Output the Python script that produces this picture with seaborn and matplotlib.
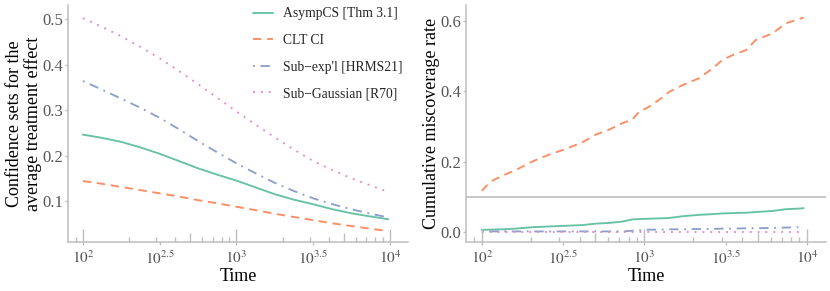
import numpy as np
import pandas as pd
import matplotlib
matplotlib.use("Agg")
import matplotlib.pyplot as plt
import seaborn as sns

# ---------------- data ----------------
methods = ["AsympCS [Thm 3.1]", "CLT CI", "Sub\u2212exp'l [HRMS21]", "Sub\u2212Gaussian [R70]"]

times_left = [100, 133, 178, 237, 316, 422, 562, 750, 1000, 1334, 1778, 2371,
              3162, 4217, 5623, 7499, 9750]
asymp_width = [0.246, 0.239, 0.230, 0.218, 0.204, 0.188, 0.172, 0.158, 0.145,
               0.130, 0.115, 0.103, 0.093, 0.082, 0.073, 0.066, 0.060]
clt_width = [0.144, 0.138, 0.131, 0.124, 0.117, 0.110, 0.102, 0.095, 0.0875,
             0.080, 0.072, 0.065, 0.058, 0.051, 0.045, 0.039, 0.034]
subexp_width = [0.364, 0.345, 0.325, 0.305, 0.283, 0.258, 0.232, 0.207, 0.183,
                0.161, 0.140, 0.122, 0.106, 0.093, 0.082, 0.072, 0.064]
subgauss_width = [0.502, 0.483, 0.462, 0.439, 0.414, 0.386, 0.357, 0.327, 0.297,
                  0.268, 0.240, 0.213, 0.188, 0.168, 0.150, 0.134, 0.120]

times_right = [100, 113, 134, 162, 204, 257, 329, 417, 501, 603, 735, 845, 925,
               1072, 1230, 1413, 1718, 2163, 2630, 3020, 3491, 4217, 4853, 6166,
               7413, 9183, 9550]
clt_miss = [0.117, 0.143, 0.160, 0.176, 0.200, 0.219, 0.236, 0.255, 0.276, 0.290,
            0.309, 0.320, 0.340, 0.356, 0.375, 0.397, 0.417, 0.436, 0.464, 0.488,
            0.502, 0.516, 0.545, 0.564, 0.592, 0.606, 0.608]
asymp_miss = [0.0065, 0.007, 0.008, 0.010, 0.014, 0.016, 0.018, 0.020, 0.024, 0.026,
              0.030, 0.036, 0.037, 0.038, 0.039, 0.040, 0.045, 0.049, 0.051, 0.053,
              0.054, 0.055, 0.057, 0.060, 0.065, 0.067, 0.068]
subexp_miss = [0.002, 0.002, 0.002, 0.002, 0.002, 0.002, 0.002, 0.002, 0.002, 0.002,
               0.002, 0.004, 0.005, 0.007, 0.007, 0.008, 0.008, 0.009, 0.009, 0.010,
               0.010, 0.011, 0.011, 0.012, 0.013, 0.014, 0.014]
subgauss_miss = [0.001] * len(times_right)

target_alpha = 0.1

xtick_pos = [10**2, 10**2.5, 10**3, 10**3.5, 10**4]
xtick_lab = [r"$10^{2}$", r"$10^{2.5}$", r"$10^{3}$", r"$10^{3.5}$", r"$10^{4}$"]
ytick_left = [0.1, 0.2, 0.3, 0.4, 0.5]
ytick_right = [0.0, 0.2, 0.4, 0.6]

# log tick marks (annotation_logticks style)
logtick_long = [100, 1000, 10000]
logtick_mid = [500, 5000]
logtick_short = [90, 200, 300, 400, 600, 700, 800, 900,
                 2000, 3000, 4000, 6000, 7000, 8000, 9000]

# ---------------- frames ----------------
df_left = pd.DataFrame({
    "time": times_left * 4,
    "value": asymp_width + clt_width + subexp_width + subgauss_width,
    "method": sum([[m] * len(times_left) for m in methods], []),
})
df_right = pd.DataFrame({
    "time": times_right * 4,
    "value": asymp_miss + clt_miss + subexp_miss + subgauss_miss,
    "method": sum([[m] * len(times_right) for m in methods], []),
})

# ---------------- style ----------------
sns.set_theme(style="white")
plt.rcParams["font.family"] = ["Liberation Serif", "DejaVu Serif"]
plt.rcParams["mathtext.fontset"] = "stix"

palette = dict(zip(methods, ["#66C2A5", "#FC8D62", "#8DA0CB", "#E78AC3"]))
dashes = dict(zip(methods, ["", (4.5, 3), (1, 3, 5, 3), (1, 3.2)]))
gray = "#BEBEBE"
tick_col = "#555555"

fig = plt.figure(figsize=(8.30, 2.91), dpi=100)
axL = fig.add_axes([68 / 830, 1 - 242 / 291, 340 / 830, 237 / 291])
axR = fig.add_axes([466 / 830, 1 - 242 / 291, 360 / 830, 237 / 291])

for ax, df in [(axL, df_left), (axR, df_right)]:
    sns.lineplot(data=df, x="time", y="value", hue="method", style="method",
                 palette=palette, dashes=dashes, linewidth=1.35, ax=ax,
                 legend=(ax is axL), sort=False)
    ax.set_xscale("log")
    ax.set_xlim(80, 13100)
    ax.set_xticks(xtick_pos)
    ax.set_xticklabels(xtick_lab)
    ax.minorticks_off()
    ax.set_xlabel("Time", fontsize=13, color="black", labelpad=1)
    for s in ["top", "right"]:
        ax.spines[s].set_visible(False)
    for s in ["left", "bottom"]:
        ax.spines[s].set_color(gray)
        ax.spines[s].set_linewidth(1.1)
    ax.tick_params(axis="both", which="both", length=2.2, width=1, color=gray,
                   labelcolor=tick_col, labelsize=11, direction="out",
                   bottom=True, left=True)
    ax.tick_params(axis="y", labelsize=12, pad=1.2)
    ax.tick_params(axis="x", pad=3)
    tr = ax.get_xaxis_transform()
    ax.vlines(logtick_long, 0, 0.055, color=gray, lw=1.0, transform=tr, clip_on=False)
    ax.vlines(logtick_mid, 0, 0.037, color=gray, lw=1.0, transform=tr, clip_on=False)
    ax.vlines(logtick_short, 0, 0.02, color=gray, lw=1.0, transform=tr, clip_on=False)

axL.set_ylim(0.01, 0.531)
axL.set_yticks(ytick_left)
axL.set_yticklabels([f"{v:.1f}" for v in ytick_left])
axL.set_ylabel("Confidence sets for the\naverage treatment effect", fontsize=13,
               color="black", labelpad=0.3, linespacing=1.08)

axR.set_ylim(-0.028, 0.644)
axR.set_yticks(ytick_right)
axR.set_yticklabels([f"{v:.1f}" for v in ytick_right])
axR.set_ylabel("Cumulative miscoverage rate", fontsize=13, color="black", labelpad=0.3)
axR.axhline(target_alpha, color=gray, lw=1.2, zorder=1)

handles, labels = axL.get_legend_handles_labels()
axL.legend(handles, labels, loc="upper left", bbox_to_anchor=(0.528, 1.013),
           frameon=False, fontsize=9.8, handlelength=1.5, handletextpad=0.7,
           labelspacing=1.0, borderaxespad=0)

fig.savefig("out.png", dpi=100)
